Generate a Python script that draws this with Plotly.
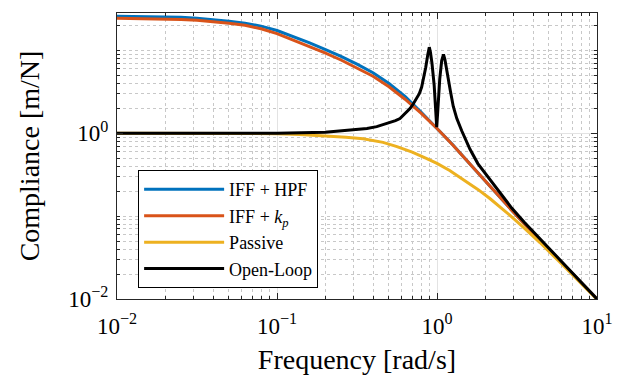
import plotly.graph_objects as go

# ---- data (frequency in rad/s, compliance in m/N) ----
freq_hpf = [0.01, 0.01585, 0.02512, 0.03162, 0.03981, 0.05012, 0.0631, 0.07943, 0.1, 0.1259, 0.1585,
            0.1995, 0.2512, 0.3162, 0.3981, 0.5012, 0.631, 0.7943, 1.0,
            1.259, 1.585, 1.995, 2.512, 3.162, 5.012, 10]
comp_hpf = [25.68, 25.47, 24.98, 24.30, 23.50, 22.48, 21.27, 19.57, 17.32, 14.75, 12.35,
            10.28, 8.47, 6.82, 5.36, 3.98, 2.79, 1.80, 1.155,
            0.72, 0.437, 0.265, 0.160, 0.100, 0.0395, 0.01]

freq_kp = [0.01, 0.01585, 0.02512, 0.03162, 0.03981, 0.05012, 0.0631, 0.07943, 0.1, 0.1259, 0.1585,
           0.1995, 0.2512, 0.3162, 0.3981, 0.5012, 0.631, 0.7943, 1.0,
           1.259, 1.585, 1.995, 2.512, 3.162, 5.012, 10]
comp_kp = [24.30, 24.10, 23.50, 22.98, 22.17, 21.15, 20.01, 18.16, 15.90, 13.38, 11.17,
           9.30, 7.64, 6.15, 4.86, 3.63, 2.57, 1.742, 1.139,
           0.717, 0.435, 0.264, 0.160, 0.100, 0.0395, 0.01]

freq_pas = [0.01, 0.03, 0.1, 0.139, 0.2, 0.27, 0.345, 0.46, 0.562, 0.7, 0.85, 1.0, 1.2, 1.46,
            1.8, 2.14, 2.5, 2.93, 3.5, 4.4, 6.0, 8.0, 10]
comp_pas = [1.0, 0.999, 0.987, 0.965, 0.935, 0.895, 0.855, 0.775, 0.69, 0.59, 0.5, 0.432, 0.355, 0.275,
            0.21, 0.163, 0.128, 0.098, 0.072, 0.048, 0.0266, 0.0153, 0.0099]

freq_ol = [0.01, 0.05, 0.1, 0.2, 0.3, 0.365, 0.42, 0.5, 0.55, 0.587, 0.63, 0.678, 0.71, 0.747, 0.775,
           0.802, 0.83, 0.85, 0.875, 0.895, 0.91, 0.93, 0.96, 0.985, 0.996, 1.01, 1.04, 1.07, 1.098,
           1.12, 1.15, 1.177, 1.21, 1.264, 1.33, 1.427, 1.52, 1.608, 1.8, 2.14, 2.5, 2.93, 3.5, 4.4,
           6.0, 8.0, 10]
comp_ol = [1.0, 1.0, 1.0, 1.03, 1.09, 1.14, 1.2, 1.33, 1.42, 1.5, 1.72, 1.98, 2.25, 2.62, 3.0,
           3.61, 4.8, 6.2, 8.8, 10.9, 9.5, 7.0, 3.8, 1.8, 1.18, 1.8, 4.5, 7.5, 8.95,
           7.8, 6.0, 4.6, 3.3, 2.1, 1.5, 1.07, 0.8, 0.64, 0.43, 0.28, 0.185, 0.125, 0.085, 0.053,
           0.0283, 0.0158, 0.01]

names = ["IFF + HPF", "IFF + <i>k<sub>p</sub></i>", "Passive", "Open-Loop"]
colors = ["#0072BD", "#D95319", "#EDB120", "#000000"]

x_ticks = [0.01, 0.1, 1, 10]
x_ticktext = ["10<sup>−2</sup>", "10<sup>−1</sup>", "10<sup>0</sup>", "10<sup>1</sup>"]
y_ticks = [0.01, 1]
y_ticktext = ["10<sup>−2</sup>", "10<sup>0</sup>"]

x_minor = [k * 10.0 ** n for n in (-2, -1, 0) for k in range(2, 10)]
y_minor = [k * 10.0 ** n for n in (-2, -1, 0, 1) for k in range(1, 10) if not (k == 1 and n in (-2, 0))]

FONT = "Liberation Serif, serif"

fig = go.Figure()
series = [(freq_hpf, comp_hpf), (freq_kp, comp_kp), (freq_pas, comp_pas), (freq_ol, comp_ol)]
for (f, c), name, col in zip(series, names, colors):
    fig.add_trace(go.Scatter(x=f, y=c, mode="lines", name=name,
                             line=dict(color=col, width=3)))

axis_common = dict(
    type="log", showline=True, linecolor="#262626", linewidth=1, mirror="allticks",
    ticks="inside", ticklen=6, tickcolor="#262626", tickwidth=1,
    showgrid=True, gridcolor="#e3e3e3", gridwidth=1, zeroline=False, automargin=False,
    tickfont=dict(family=FONT, size=23, color="#000000"),
)

fig.update_xaxes(**axis_common, range=[-2, 1], tickvals=x_ticks, ticktext=x_ticktext,
                 ticklabelstandoff=6,
                 minor=dict(tickvals=x_minor, ticks="inside", ticklen=3, tickcolor="#262626",
                            showgrid=True, gridcolor="#c8c8c8", griddash="dot", gridwidth=1),
                 title=dict(text="Frequency [rad/s]", font=dict(family=FONT, size=28, color="#000"), standoff=12))
fig.update_yaxes(**axis_common, range=[-2, 1.45], tickvals=y_ticks, ticktext=y_ticktext,
                 ticklabelstandoff=3,
                 minor=dict(tickvals=y_minor, ticks="inside", ticklen=3, tickcolor="#262626",
                            showgrid=True, gridcolor="#c8c8c8", griddash="dot", gridwidth=1),
                 title=dict(text="Compliance [m/N]", font=dict(family=FONT, size=28, color="#000"), standoff=20))

fig.update_layout(
    width=619, height=375,
    margin=dict(l=117, r=22, t=13, b=76),
    paper_bgcolor="white", plot_bgcolor="white",
    font=dict(family=FONT, color="#000"),
    showlegend=True,
    legend=dict(x=0.044, y=0.4506, xanchor="left", yanchor="top",
                bgcolor="white", bordercolor="#000", borderwidth=1,
                font=dict(family=FONT, size=18, color="#000"), itemwidth=80),
)

fig.write_html("out.html")
